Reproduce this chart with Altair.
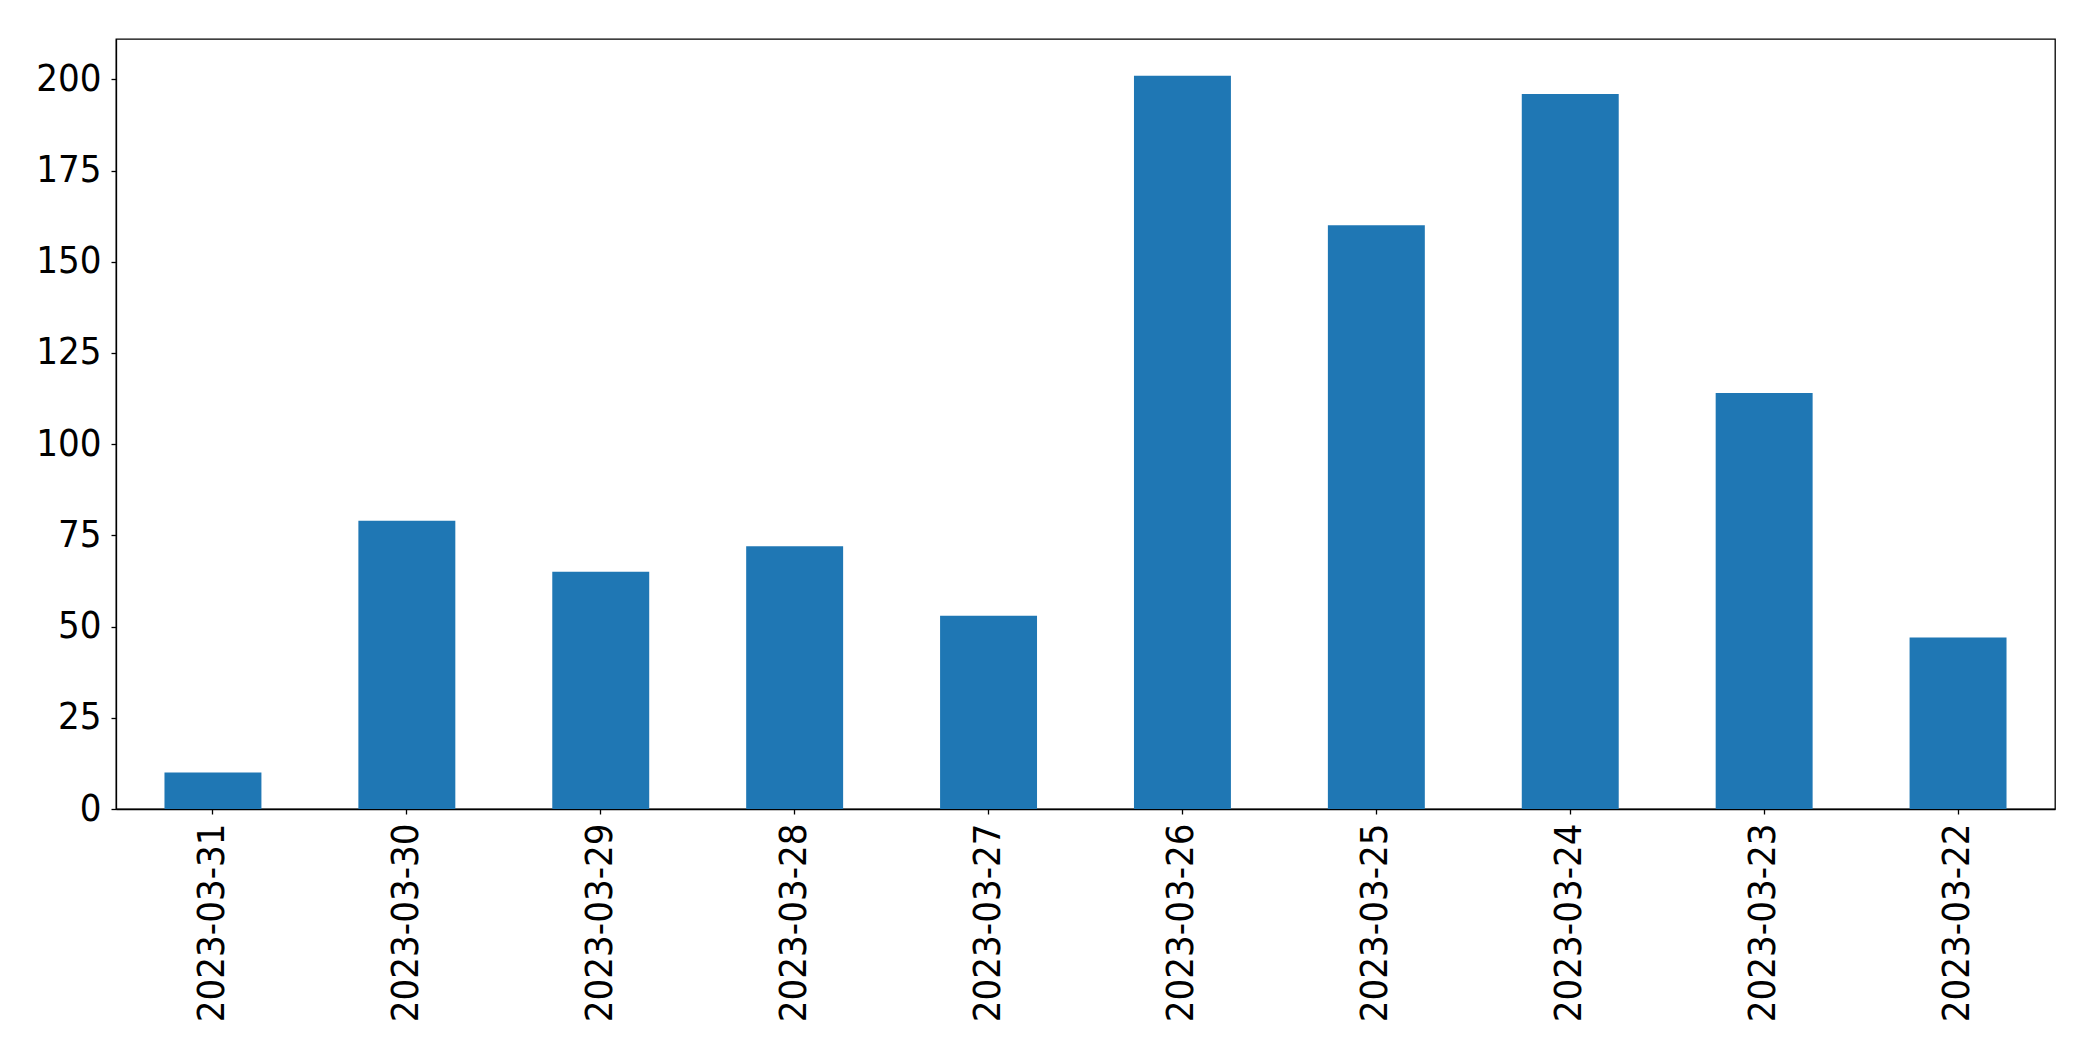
import altair as alt
import pandas as pd

dates = ["2023-03-31", "2023-03-30", "2023-03-29", "2023-03-28", "2023-03-27",
         "2023-03-26", "2023-03-25", "2023-03-24", "2023-03-23", "2023-03-22"]
counts = [10, 79, 65, 72, 53, 201, 160, 196, 114, 47]
y_ticks = [0, 25, 50, 75, 100, 125, 150, 175, 200]

df = pd.DataFrame({"date": dates, "count": counts})

FONT = "DejaVu Sans Condensed, DejaVu Sans"
FS = 38

chart = alt.Chart(df).mark_bar(color="#1f77b4").encode(
    x=alt.X("date:N", sort=dates, title=None,
            scale=alt.Scale(paddingInner=0.5, paddingOuter=0.25),
            axis=alt.Axis(labelAngle=270, labelFont=FONT, labelFontSize=FS,
                          labelLimit=0, labelOverlap=False,
                          labelColor="black", tickColor="black", tickSize=5,
                          labelPadding=9, domainColor="black", domainWidth=1.3,
                          tickWidth=1.3, grid=False)),
    y=alt.Y("count:Q", title=None,
            scale=alt.Scale(domain=[0, 211.05], nice=False, zero=True),
            axis=alt.Axis(values=y_ticks, labelFont=FONT, labelFontSize=FS,
                          labelColor="black", tickColor="black", tickSize=5,
                          labelPadding=10, domainColor="black", domainWidth=1.3,
                          tickWidth=1.3, grid=False)),
).properties(
    width=1939,
    height=770,
    autosize=alt.AutoSizeParams(type="none"),
    padding={"left": 108, "top": 31, "right": 30, "bottom": 240},
).configure(
    background="white",
    view=alt.ViewConfig(stroke="black", strokeWidth=1.3),
)

chart.save("out.html", embed_options={"renderer": "svg", "actions": False})
